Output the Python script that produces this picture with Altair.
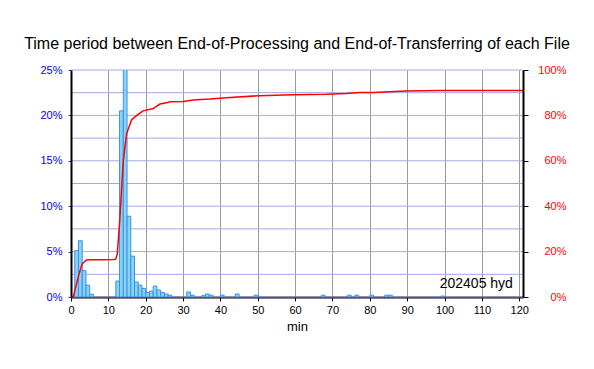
import altair as alt
import pandas as pd

# ---- data ----
hist_start = [1, 2, 3, 4, 5, 12, 13, 14, 15, 16, 17, 18, 19, 20, 21, 22, 23, 24, 25, 26,
              31, 32, 35, 36, 37, 40, 44, 49, 67, 74, 76, 80, 84, 85, 99]
hist_pct = [5.1, 6.2, 2.9, 1.3, 0.3, 1.76, 20.5, 30.0, 8.9, 4.5, 1.65, 1.3, 0.95, 0.5, 0.65,
            1.2, 0.77, 0.5, 0.33, 0.2, 0.55, 0.2, 0.15, 0.33, 0.2, 0.2, 0.33, 0.2, 0.2, 0.2,
            0.2, 0.2, 0.2, 0.2, 0.1]
bin_width = 1

cum_min = [0, 0.6, 1.2, 2.2, 3, 4, 5, 8, 11.6, 12.0, 12.4, 13.1, 14.0, 14.9, 16.2, 17.6,
           19.3, 22, 23.8, 25.6, 26.5, 30, 32.7, 37.1, 41.6, 50.5, 59.4, 68.3, 73.7, 77.2,
           80.8, 89.7, 98.6, 121]
cum_pct = [0, 0, 4, 10.4, 14.5, 16.2, 16.4, 16.4, 16.5, 16.8, 19, 35, 60, 72, 78, 80,
           82, 83, 85, 85.6, 86, 86.1, 86.8, 87.2, 87.8, 88.7, 89.1, 89.3, 89.7, 90.1,
           90.1, 90.7, 91, 91]

x_ticks = [0, 10, 20, 30, 40, 50, 60, 70, 80, 90, 100, 110, 120]
left_ticks = [0, 5, 10, 15, 20, 25]
right_ticks = [0, 20, 40, 60, 80, 100]
grid_levels = [0, 2.5, 5, 7.5, 10, 12.5, 15, 17.5, 20, 22.5, 25]

ann_x = [118.3]
ann_y = [1.0]
ann_text = ["202405 hyd"]

title_text = "Time period between End-of-Processing and End-of-Transferring of each File"

FONT = "Liberation Sans"

hist_df = pd.DataFrame({"start": hist_start,
                        "end": [s + bin_width for s in hist_start],
                        "pct": hist_pct})
cum_df = pd.DataFrame({"m": cum_min, "cum": cum_pct})
grid_df = pd.DataFrame({"lvl": grid_levels})
ann_df = pd.DataFrame({"x": ann_x, "y": ann_y, "t": ann_text})

xscale = alt.Scale(domain=[0, 121], nice=False, zero=False)
yleft = alt.Scale(domain=[0, 25], nice=False)
yright = alt.Scale(domain=[0, 100], nice=False)

x_axis = alt.Axis(values=x_ticks, grid=True, gridColor="#9a9a9a", gridWidth=1,
                  domainColor="black", domainWidth=2, tickColor="black", tickSize=4,
                  labelColor="black", labelFont=FONT, labelFontSize=11, labelPadding=3,
                  labelOverlap=False, labelFlush=False,
                  title="min", titleFont=FONT, titleFontSize=13, titleFontWeight="normal",
                  titleColor="black", titlePadding=5)

left_axis = alt.Axis(values=left_ticks, grid=False, domainColor="black", domainWidth=2,
                     tickColor="#3333cc", tickSize=3, labelColor="#0000ff", labelFont=FONT,
                     labelFontSize=11, labelPadding=6, labelOverlap=False, labelFlush=False,
                     labelExpr="datum.value + '%'", title=None, zindex=1)

right_axis = alt.Axis(values=right_ticks, orient="right", grid=False, domainColor="black",
                      domainWidth=2, tickColor="black", tickSize=5, labelColor="#ff0000",
                      labelFont=FONT, labelFontSize=11, labelAlign="right", labelPadding=38,
                      labelOverlap=False, labelFlush=False,
                      labelExpr="datum.value + '%'", title=None, zindex=1)

grid = alt.Chart(grid_df).mark_rule(color="#a6a6e6", strokeWidth=1).encode(
    y=alt.Y("lvl:Q", scale=yleft, axis=left_axis)
)

bars = alt.Chart(hist_df).mark_bar(fill="#86d4fc", stroke="#3f8fe0", strokeWidth=1,
                                   clip=True).encode(
    x=alt.X("start:Q", scale=xscale, axis=x_axis),
    x2="end:Q",
    y=alt.Y("pct:Q", scale=yleft, axis=left_axis),
    y2=alt.datum(0),
)

ann = alt.Chart(ann_df).mark_text(align="right", baseline="alphabetic", font=FONT,
                                  fontSize=14, color="black").encode(
    x=alt.X("x:Q", scale=xscale, axis=x_axis),
    y=alt.Y("y:Q", scale=yleft, axis=left_axis),
    text="t:N",
)

left = alt.layer(grid, bars, ann)

line = alt.Chart(cum_df).mark_line(color="#ff0000", strokeWidth=1.5, clip=True).encode(
    x=alt.X("m:Q", scale=xscale, axis=x_axis),
    y=alt.Y("cum:Q", scale=yright, axis=right_axis),
)

chart = alt.layer(left, line).resolve_scale(y="independent").properties(
    width=452, height=227,
    title=alt.TitleParams(title_text, font=FONT, fontSize=16, fontWeight="normal",
                          color="black", offset=12, anchor="middle"),
    autosize=alt.AutoSizeParams(type="none"),
    padding={"left": 63, "top": 62, "right": 63, "bottom": 64},
).configure_view(stroke=None)

chart.save("out.html", embed_options={"renderer": "svg", "actions": False})
